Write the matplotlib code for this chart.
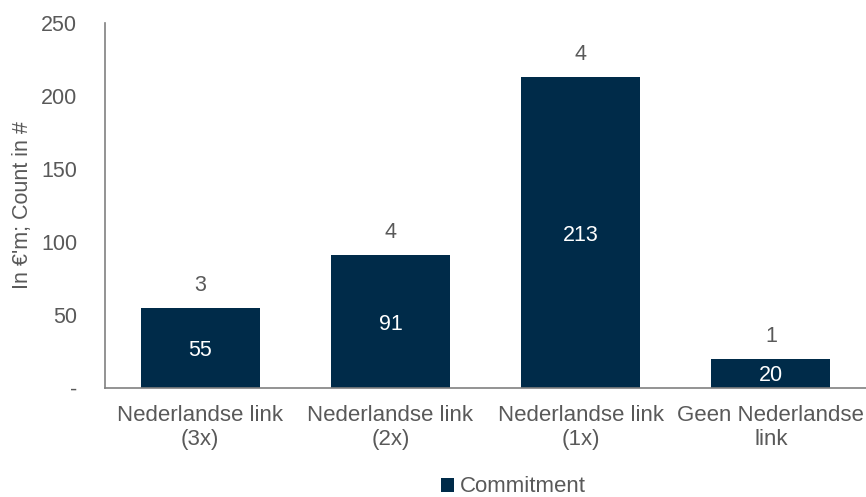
import numpy as np
import matplotlib.pyplot as plt
from matplotlib.ticker import FixedLocator, FuncFormatter

# Datos
categorias = ['Nederlandse link\n(3x)', 'Nederlandse link\n(2x)',
              'Nederlandse link\n(1x)', 'Geen Nederlandse\nlink']
commitment = [55, 91, 213, 20]
aantal = [3, 4, 4, 1]

plt.rcParams['font.family'] = ['Liberation Sans', 'DejaVu Sans']
gris = '#595959'
azul = '#002B49'

fig = plt.figure(figsize=(8.66, 4.97), dpi=100)
ax = fig.add_axes([105/866, 109/497, 761/866, 365/497])

x = np.arange(len(categorias))
barras = ax.bar(x, commitment, width=0.625, color=azul, label='Commitment')

# valores dentro de las barras
for xi, v in zip(x, commitment):
    ax.text(xi, v/2, str(v), ha='center', va='center_baseline', color='white', fontsize=15.5)
# conteo encima
for xi, v, n in zip(x, commitment, aantal):
    ax.text(xi, v + 17, str(n), ha='center', va='center_baseline', color=gris, fontsize=15.5)

ax.set_xlim(-0.5, len(categorias) - 0.5)
ax.set_ylim(0, 250)
ax.yaxis.set_major_locator(FixedLocator([0, 50, 100, 150, 200, 250]))
ax.yaxis.set_major_formatter(FuncFormatter(lambda v, p: '-' if v == 0 else '%d' % v))
ax.set_xticks(x)
ax.set_xticklabels(categorias, fontsize=16, color=gris, linespacing=1.2)
ax.tick_params(axis='y', labelsize=15.5, labelcolor=gris, length=0, pad=20)
ax.tick_params(axis='x', length=0, pad=12)
ax.set_ylabel("In €'m; Count in #", fontsize=15.5, color=gris, labelpad=6)

for s in ['top', 'right']:
    ax.spines[s].set_visible(False)
for s in ['left', 'bottom']:
    ax.spines[s].set_color('#808080')
    ax.spines[s].set_linewidth(1.2)

fig.legend(handles=[barras], labels=['Commitment'], loc='center',
           bbox_to_anchor=(513/866, 10/497), frameon=False, fontsize=16,
           handlelength=0.6, handleheight=0.6, handletextpad=0.25, labelcolor=gris)

plt.savefig('out.png', dpi=100)
